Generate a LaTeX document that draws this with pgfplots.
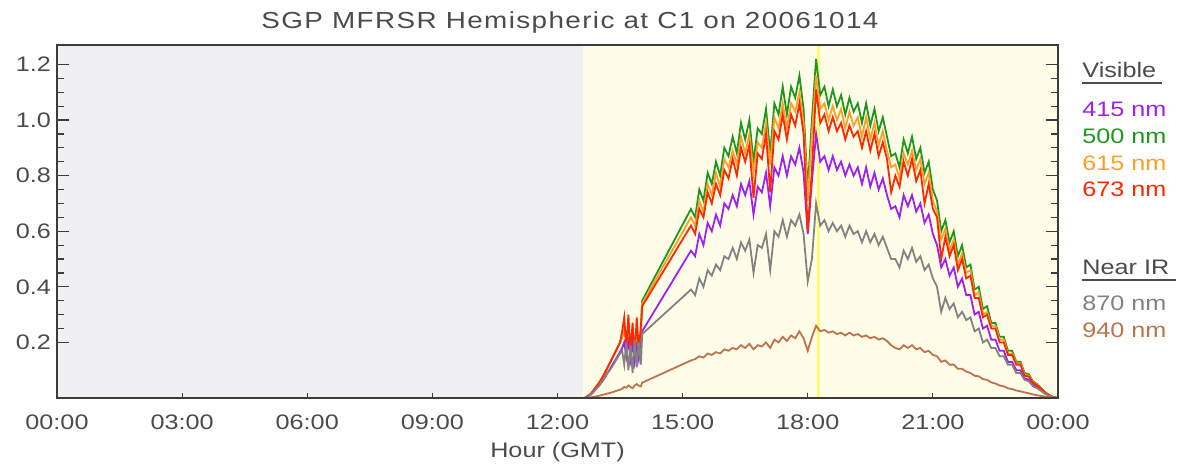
\documentclass[border=0pt]{standalone}
\usepackage{pgfplots}
\pgfplotsset{compat=1.18}
\usepackage{pgfplotstable}
\usepackage{fontspec}
\setmainfont{Liberation Sans}[FakeStretch=1.2]
\newfontfamily\titlefont{Liberation Sans}[FakeStretch=1.2,LetterSpace=6]
\definecolor{c415}{RGB}{160,32,240}
\definecolor{c500}{RGB}{30,150,30}
\definecolor{c615}{RGB}{255,160,40}
\definecolor{c673}{RGB}{255,40,0}
\definecolor{c870}{RGB}{130,130,130}
\definecolor{c940}{RGB}{190,115,80}
\definecolor{txt}{RGB}{75,75,75}
\definecolor{axc}{RGB}{60,60,60}
\definecolor{bggray}{RGB}{240,240,242}
\definecolor{bgyel}{RGB}{255,253,232}
\definecolor{vline}{RGB}{255,250,120}

% columns: hour, 500nm, 615nm, 673nm, 415nm, 870nm, 940nm
\pgfplotstableread{
t g o r p y b
12.65 0 0 0 0 0 0
12.70 0.005 0.005 0.005 0.004 0.004 0
12.80 0.015 0.015 0.015 0.012 0.012 0.002
12.90 0.035 0.035 0.035 0.028 0.028 0.005
13.00 0.055 0.055 0.055 0.045 0.045 0.008
13.10 0.08 0.08 0.08 0.065 0.065 0.012
13.20 0.11 0.11 0.11 0.09 0.09 0.016
13.30 0.14 0.14 0.14 0.115 0.11 0.02
13.40 0.17 0.17 0.17 0.14 0.135 0.025
13.50 0.20 0.20 0.20 0.165 0.16 0.03
13.55 0.22 0.22 0.24 0.18 0.17 0.033
13.60 0.24 0.25 0.29 0.20 0.12 0.04
13.65 0.21 0.20 0.18 0.15 0.20 0.037
13.70 0.25 0.26 0.30 0.21 0.10 0.045
13.75 0.20 0.19 0.16 0.14 0.19 0.04
13.80 0.24 0.25 0.27 0.20 0.09 0.035
13.85 0.18 0.18 0.15 0.13 0.21 0.045
13.90 0.22 0.24 0.29 0.19 0.11 0.05
13.95 0.19 0.18 0.17 0.14 0.20 0.044
14.00 0.24 0.25 0.26 0.20 0.12 0.042
14.03 0.35 0.34 0.33 0.24 0.23 0.055
15.2 0.68 0.65 0.62 0.53 0.39 0.135
15.3 0.65 0.62 0.59 0.51 0.37 0.14
15.4 0.75 0.71 0.68 0.59 0.43 0.15
15.5 0.71 0.67 0.65 0.55 0.40 0.145
15.6 0.81 0.77 0.74 0.63 0.46 0.16
15.7 0.77 0.73 0.70 0.60 0.44 0.155
15.8 0.85 0.81 0.77 0.66 0.48 0.165
15.9 0.80 0.76 0.73 0.62 0.46 0.16
16.0 0.90 0.86 0.82 0.70 0.51 0.175
16.1 0.87 0.83 0.79 0.68 0.50 0.17
16.2 0.94 0.89 0.86 0.73 0.54 0.18
16.3 0.88 0.84 0.80 0.69 0.50 0.175
16.4 0.99 0.94 0.90 0.77 0.56 0.19
16.5 0.93 0.88 0.85 0.73 0.53 0.18
16.6 1.00 0.95 0.91 0.78 0.57 0.195
16.7 0.85 0.81 0.72 0.66 0.45 0.175
16.8 0.97 0.92 0.88 0.76 0.55 0.19
16.9 0.95 0.90 0.86 0.74 0.54 0.185
17.0 1.04 0.99 0.95 0.81 0.59 0.20
17.1 0.88 0.84 0.74 0.69 0.46 0.18
17.2 1.06 1.01 0.96 0.83 0.60 0.21
17.3 1.02 0.97 0.93 0.80 0.58 0.20
17.4 1.12 1.06 1.02 0.87 0.64 0.22
17.5 1.02 0.97 0.93 0.80 0.58 0.205
17.6 1.12 1.06 1.02 0.87 0.64 0.225
17.7 1.08 1.03 0.98 0.84 0.62 0.215
17.8 1.16 1.10 1.06 0.90 0.66 0.24
17.9 1.04 0.99 0.95 0.81 0.59 0.215
18.0 0.75 0.71 0.60 0.59 0.42 0.17
18.1 1.00 0.95 0.82 0.78 0.50 0.22
18.2 1.22 1.16 1.11 0.95 0.70 0.26
18.3 1.09 1.04 0.99 0.85 0.62 0.24
18.4 1.12 1.06 1.02 0.87 0.64 0.245
18.5 1.05 1.00 0.96 0.82 0.60 0.235
18.6 1.11 1.05 1.01 0.87 0.63 0.24
18.7 1.05 1.00 0.96 0.82 0.60 0.23
18.8 1.09 1.04 0.99 0.85 0.62 0.235
18.9 1.02 0.97 0.93 0.80 0.58 0.225
19.0 1.08 1.03 0.98 0.84 0.62 0.235
19.1 1.03 0.98 0.94 0.80 0.59 0.225
19.2 1.06 1.01 0.96 0.83 0.60 0.23
19.3 0.99 0.94 0.90 0.77 0.56 0.22
19.4 1.06 1.01 0.96 0.83 0.60 0.225
19.5 0.98 0.93 0.89 0.76 0.56 0.215
19.6 1.04 0.99 0.95 0.81 0.59 0.22
19.7 0.96 0.91 0.87 0.75 0.55 0.21
19.8 1.01 0.96 0.92 0.79 0.58 0.215
19.9 0.94 0.89 0.86 0.73 0.54 0.205
20.0 0.87 0.83 0.74 0.68 0.50 0.19
20.1 0.88 0.84 0.80 0.69 0.50 0.18
20.2 0.83 0.79 0.76 0.65 0.47 0.175
20.3 0.93 0.88 0.85 0.73 0.53 0.19
20.4 0.88 0.84 0.80 0.69 0.50 0.18
20.5 0.94 0.89 0.86 0.73 0.54 0.19
20.6 0.86 0.82 0.78 0.67 0.49 0.175
20.7 0.90 0.86 0.82 0.70 0.51 0.18
20.8 0.81 0.77 0.70 0.63 0.46 0.165
20.9 0.85 0.81 0.77 0.66 0.48 0.17
21.0 0.75 0.71 0.68 0.59 0.43 0.155
21.1 0.71 0.67 0.65 0.55 0.40 0.15
21.2 0.60 0.57 0.50 0.47 0.31 0.13
21.3 0.64 0.61 0.58 0.50 0.36 0.135
21.4 0.56 0.53 0.51 0.44 0.32 0.12
21.5 0.60 0.57 0.55 0.47 0.34 0.12
21.6 0.51 0.48 0.46 0.40 0.29 0.105
21.7 0.55 0.52 0.50 0.43 0.31 0.105
21.8 0.47 0.45 0.43 0.37 0.28 0.095
21.9 0.48 0.46 0.44 0.37 0.29 0.09
22.0 0.39 0.37 0.36 0.30 0.24 0.08
22.1 0.40 0.38 0.36 0.31 0.25 0.078
22.2 0.32 0.30 0.29 0.25 0.20 0.068
22.3 0.33 0.31 0.30 0.26 0.21 0.065
22.4 0.27 0.26 0.25 0.21 0.18 0.056
22.5 0.27 0.26 0.25 0.21 0.18 0.052
22.6 0.22 0.21 0.20 0.17 0.15 0.045
22.7 0.22 0.21 0.20 0.17 0.15 0.042
22.8 0.17 0.16 0.155 0.13 0.12 0.035
22.9 0.17 0.16 0.155 0.13 0.12 0.032
23.0 0.13 0.125 0.12 0.10 0.09 0.027
23.1 0.13 0.125 0.12 0.10 0.09 0.024
23.2 0.09 0.085 0.08 0.07 0.065 0.02
23.3 0.085 0.08 0.077 0.066 0.06 0.017
23.4 0.06 0.057 0.055 0.047 0.042 0.013
23.5 0.05 0.047 0.045 0.039 0.035 0.01
23.6 0.035 0.033 0.032 0.027 0.025 0.007
23.7 0.02 0.019 0.018 0.016 0.014 0.005
23.8 0.01 0.0095 0.009 0.008 0.007 0.003
23.9 0.003 0.003 0.003 0.002 0.002 0.001
24.0 0 0 0 0 0 0
}\mfrsr

\begin{document}
\begin{tikzpicture}
\useasboundingbox (-28.5pt,-33pt) rectangle (561.5pt,199pt);
\begin{axis}[
  at={(0,0)}, anchor=south west,
  width=500.5pt, height=176.5pt, scale only axis,
  xmin=0, xmax=24, ymin=0, ymax=1.27,
  clip=false, axis on top=true,
  axis line style={draw=axc, line width=0.8pt},
  xtick={0,3,...,24},
  xticklabels={00:00,03:00,06:00,09:00,12:00,15:00,18:00,21:00,00:00},
  xtick pos=left,
  ytick={0.2,0.4,0.6,0.8,1.0,1.2},
  minor y tick num=3,
  ytick pos=both,
  tick align=inside,
  major tick length=6pt, minor tick length=3.5pt,
  tick style={draw=axc, line width=0.6pt},
  xtick style={/pgfplots/major tick length=2.5pt},
  /pgf/number format/assume math mode=true,
  ticklabel style={font=\fontsize{10.5}{12}\selectfont, text=txt},
  yticklabel style={/pgf/number format/fixed, /pgf/number format/fixed zerofill, /pgf/number format/precision=1, anchor=east, xshift=0.5pt},
  xticklabel style={anchor=base, yshift=-16pt},
  xlabel={Hour (GMT)},
  xlabel style={at={(axis description cs:0.5,-0.153)}, anchor=center, font=\fontsize{10.5}{12}\selectfont, text=txt},
]
\fill[bggray] (axis cs:0,0) rectangle (axis cs:12.61,1.27);
\fill[bgyel] (axis cs:12.61,0) rectangle (axis cs:24,1.27);
\draw[vline, line width=1.6pt] (axis cs:18.25,0) -- (axis cs:18.25,1.27);

\addplot[c415, line width=0.9pt] table[x=t,y=p]{\mfrsr};
\addplot[c500, line width=0.9pt] table[x=t,y=g]{\mfrsr};
\addplot[c615, line width=0.9pt] table[x=t,y=o]{\mfrsr};
\addplot[c673, line width=0.9pt] table[x=t,y=r]{\mfrsr};
\addplot[c870, line width=0.9pt] table[x=t,y=y]{\mfrsr};
\addplot[c940, line width=0.9pt] table[x=t,y=b]{\mfrsr};

\node[font=\fontsize{11.6}{14}\titlefont, text=txt, anchor=center] at (rel axis cs:0.5125,1.065) {SGP MFRSR Hemispheric at C1 on 20061014};

\begin{scope}[every node/.style={anchor=west, inner sep=0pt, font=\fontsize{10.5}{12}\selectfont}]
\node[text=txt] at (rel axis cs:1.024,0.929) {Visible};
\draw[txt, line width=0.7pt] (rel axis cs:1.024,0.892) -- (rel axis cs:1.104,0.892);
\node[text=c415] at (rel axis cs:1.024,0.819) {415 nm};
\node[text=c500] at (rel axis cs:1.024,0.742) {500 nm};
\node[text=c615] at (rel axis cs:1.024,0.666) {615 nm};
\node[text=c673] at (rel axis cs:1.024,0.592) {673 nm};
\node[text=txt] at (rel axis cs:1.024,0.371) {Near IR};
\draw[txt, line width=0.7pt] (rel axis cs:1.024,0.334) -- (rel axis cs:1.118,0.334);
\node[text=c870] at (rel axis cs:1.024,0.269) {870 nm};
\node[text=c940] at (rel axis cs:1.024,0.193) {940 nm};
\end{scope}
\end{axis}
\end{tikzpicture}
\end{document}
